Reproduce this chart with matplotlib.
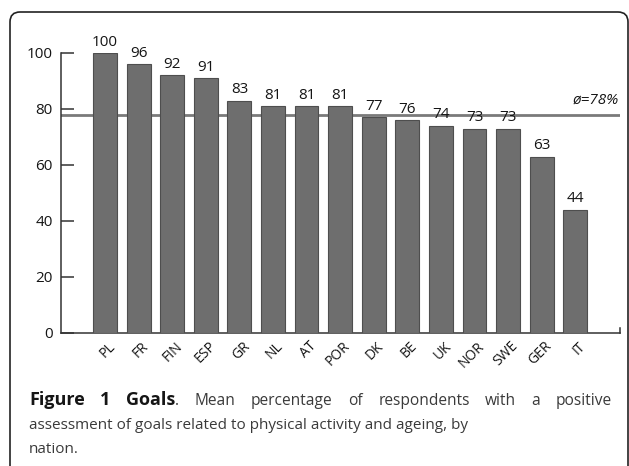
import matplotlib.pyplot as plt
import matplotlib.transforms as mtransforms
from matplotlib.patches import FancyBboxPatch
import numpy as np

# dados
paises = ['PL', 'FR', 'FIN', 'ESP', 'GR', 'NL', 'AT', 'POR', 'DK', 'BE', 'UK', 'NOR', 'SWE', 'GER', 'IT']
valores = [100, 96, 92, 91, 83, 81, 81, 81, 77, 76, 74, 73, 73, 63, 44]
media = 78
yticks = [0, 20, 40, 60, 80, 100]

plt.rcParams['font.family'] = ['Open Sans', 'DejaVu Sans']
cor_texto = '#151515'
cor_legenda = '#3a3a3a'

fig = plt.figure(figsize=(6.29, 4.66), dpi=100)
# eixos em pixels: esquerda 61, direita 620, base 333, topo 53
ax = fig.add_axes([61 / 629, (466 - 333) / 466, (620 - 61) / 629, (333 - 53) / 466])

x = np.arange(len(paises))
ax.bar(x, valores, width=0.71, color='#6e6e6e', edgecolor='#4e4e4e', linewidth=0.8, zorder=3)
ax.axhline(media, color='#7a7a7a', linewidth=2.0, zorder=2)

for xi, v in zip(x, valores):
    ax.text(xi, v + 1.2, str(v), ha='center', va='bottom', fontsize=11, color=cor_texto)

ax.text(15.3, media + 2.6, 'ø=78%', ha='right', va='bottom', fontsize=11,
        style='italic', color=cor_texto)

ax.set_xlim(-1.31, 15.33)
ax.set_ylim(0, 100)
ax.set_yticks(yticks)
ax.set_yticklabels([str(t) for t in yticks], fontsize=11, color=cor_texto)
ax.tick_params(axis='y', direction='in', length=9.5, width=1.1, color='#333333', pad=6)

ax.set_xticks(x)
ax.set_xticklabels(paises, rotation=45, ha='right', va='center', rotation_mode='anchor',
                   fontsize=10, color=cor_texto)
ax.tick_params(axis='x', length=0, pad=8)
desloc = mtransforms.ScaledTranslation(8 / 100, 0, fig.dpi_scale_trans)
for lbl in ax.get_xticklabels():
    lbl.set_transform(lbl.get_transform() + desloc)

for lado in ['top', 'right']:
    ax.spines[lado].set_visible(False)
ax.spines['left'].set_color('#333333')
ax.spines['bottom'].set_color('#333333')
ax.spines['left'].set_linewidth(1.1)
ax.spines['bottom'].set_linewidth(1.1)
# pequeno traço no fim do eixo x
ax.plot([1, 1], [0, 0.018], transform=ax.transAxes, color='#333333', linewidth=1.1, clip_on=False)

# moldura arredondada (aberta embaixo)
px = mtransforms.Affine2D().scale(1 / 100) + fig.dpi_scale_trans
moldura = FancyBboxPatch((10, -30), 618, 466 - 12 + 30, boxstyle='round,pad=0,rounding_size=10',
                         facecolor='none', edgecolor='#222222', linewidth=1.2, transform=px)
fig.add_artist(moldura)

# legenda da figura - primeira linha justificada entre x=29 e x=612
palavras = [('Figure', 'bold'), ('1', 'bold'), ('Goals', 'bold'), ('.', 'normal'),
            ('Mean', 'normal'), ('percentage', 'normal'), ('of', 'normal'),
            ('respondents', 'normal'), ('with', 'normal'), ('a', 'normal'), ('positive', 'normal')]
y1 = 1 - 405 / 466
textos = []
for p, peso in palavras:
    t = fig.text(0, y1, p, fontsize=13 if peso == 'bold' else 11.2, fontweight=peso,
                 color=cor_texto if peso == 'bold' else cor_legenda, va='baseline')
    textos.append(t)
fig.canvas.draw()
r = fig.canvas.get_renderer()
larguras = [t.get_window_extent(r).width for t in textos]
n_gaps = len(palavras) - 2  # o ponto fica colado em "Goals"
gap = (612 - 29 - sum(larguras)) / n_gaps
xpos = 29
for i, t in enumerate(textos):
    if i > 0 and palavras[i][0] != '.':
        xpos += gap
    t.set_x(xpos / 629)
    xpos += larguras[i]

fig.text(29 / 629, 1 - 429 / 466, 'assessment of goals related to physical activity and ageing, by',
         fontsize=11, color=cor_legenda, va='baseline')
fig.text(29 / 629, 1 - 453 / 466, 'nation.', fontsize=11, color=cor_legenda, va='baseline')

fig.savefig('out.png', dpi=100)
